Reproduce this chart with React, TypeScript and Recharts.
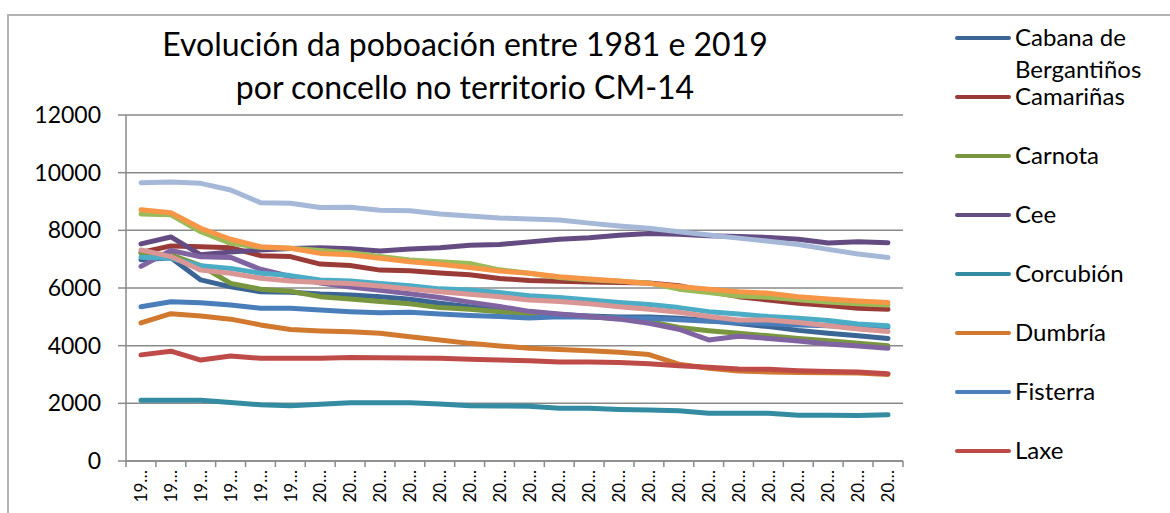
import React from 'react';
import { LineChart, Line, XAxis, YAxis, CartesianGrid } from 'recharts';

// years of the padrón (1981 census, then 1986, 1991, 1996, 1998 onwards)
const years = [
  '1981', '1986', '1991', '1996', '1998', '1999', '2000', '2001', '2002', '2003', '2004', '2005', '2006',
  '2007', '2008', '2009', '2010', '2011', '2012', '2013', '2014', '2015', '2016', '2017', '2018', '2019',
];

const cabana = [6980, 7050, 6280, 6040, 5870, 5850, 5790, 5760, 5700, 5610, 5470, 5350, 5240, 5170, 5080, 5030, 4990, 4990, 4950, 4870, 4770, 4660, 4530, 4430, 4340, 4250];
const camarinas = [7230, 7460, 7430, 7400, 7120, 7090, 6830, 6780, 6620, 6600, 6520, 6460, 6330, 6260, 6230, 6210, 6190, 6170, 6080, 5880, 5700, 5580, 5470, 5390, 5300, 5260];
const carnota = [7200, 7150, 6780, 6160, 5960, 5890, 5700, 5620, 5530, 5450, 5320, 5260, 5180, 5100, 5040, 4990, 4950, 4840, 4630, 4520, 4430, 4340, 4250, 4170, 4080, 4000];
const cee = [7530, 7770, 7150, 7250, 7320, 7370, 7400, 7360, 7280, 7350, 7400, 7480, 7510, 7600, 7690, 7740, 7830, 7890, 7860, 7810, 7790, 7750, 7690, 7560, 7600, 7570];
const corcubion = [2110, 2110, 2110, 2030, 1950, 1920, 1970, 2020, 2020, 2020, 1980, 1920, 1910, 1900, 1830, 1830, 1790, 1770, 1740, 1660, 1660, 1660, 1590, 1590, 1580, 1600];
const dumbria = [4790, 5110, 5030, 4920, 4720, 4560, 4510, 4480, 4430, 4310, 4200, 4080, 3990, 3910, 3870, 3820, 3770, 3690, 3360, 3220, 3120, 3090, 3070, 3060, 3050, 3000];
const fisterra = [5350, 5520, 5490, 5410, 5300, 5300, 5240, 5180, 5140, 5160, 5100, 5050, 5010, 4960, 5000, 4990, 4960, 4950, 4900, 4850, 4800, 4760, 4720, 4690, 4670, 4640];
const laxe = [3680, 3810, 3500, 3640, 3560, 3560, 3560, 3590, 3580, 3570, 3560, 3530, 3500, 3480, 3430, 3430, 3420, 3370, 3300, 3250, 3190, 3180, 3130, 3100, 3090, 3030];
const malpica = [8570, 8540, 7950, 7550, 7410, 7380, 7300, 7220, 7090, 6970, 6910, 6850, 6630, 6510, 6360, 6290, 6230, 6170, 5960, 5840, 5720, 5680, 5590, 5510, 5450, 5410];
const mazaricos = [6750, 7300, 7080, 7060, 6650, 6400, 6170, 6030, 5920, 5800, 5670, 5510, 5360, 5190, 5100, 5010, 4920, 4780, 4570, 4200, 4330, 4250, 4160, 4060, 3990, 3910];
const muxia = [7070, 7030, 6770, 6680, 6510, 6430, 6280, 6240, 6160, 6080, 5970, 5930, 5840, 5730, 5670, 5580, 5500, 5430, 5320, 5180, 5100, 5010, 4950, 4870, 4750, 4690];
const ponteceso = [8710, 8610, 8070, 7690, 7430, 7380, 7200, 7150, 7030, 6910, 6820, 6710, 6590, 6510, 6390, 6310, 6240, 6160, 6050, 5960, 5870, 5820, 5700, 5620, 5550, 5500];
const vimianzo = [9650, 9680, 9630, 9400, 8960, 8940, 8790, 8800, 8700, 8680, 8570, 8500, 8430, 8390, 8360, 8250, 8150, 8070, 7950, 7840, 7730, 7620, 7510, 7340, 7180, 7060];
const zas = [7320, 7090, 6620, 6510, 6340, 6240, 6190, 6160, 6070, 5970, 5870, 5780, 5700, 5580, 5530, 5450, 5350, 5260, 5160, 5010, 4890, 4890, 4800, 4690, 4580, 4490];

const yTicks = [0, 2000, 4000, 6000, 8000, 10000, 12000];

const SERIES = [
  { key: 'cabana', name: 'Cabana de Bergantiños', values: cabana, color: '#3A6595' },
  { key: 'camarinas', name: 'Camariñas', values: camarinas, color: '#9B3B38' },
  { key: 'carnota', name: 'Carnota', values: carnota, color: '#78963D' },
  { key: 'cee', name: 'Cee', values: cee, color: '#644C82' },
  { key: 'corcubion', name: 'Corcubión', values: corcubion, color: '#338CA2' },
  { key: 'dumbria', name: 'Dumbría', values: dumbria, color: '#D0792F' },
  { key: 'fisterra', name: 'Fisterra', values: fisterra, color: '#4A7EBB' },
  { key: 'laxe', name: 'Laxe', values: laxe, color: '#BE4B48' },
  { key: 'malpica', name: 'Malpica de Bergantiños', values: malpica, color: '#9BBB59' },
  { key: 'mazaricos', name: 'Mazaricos', values: mazaricos, color: '#8064A2' },
  { key: 'muxia', name: 'Muxía', values: muxia, color: '#4BACC6' },
  { key: 'ponteceso', name: 'Ponteceso', values: ponteceso, color: '#F79646' },
  { key: 'vimianzo', name: 'Vimianzo', values: vimianzo, color: '#A5B8D8' },
  { key: 'zas', name: 'Zas', values: zas, color: '#D99694' },
];

// the legend box in the original only has room for the first 8 entries
const LEGEND_SHOWN = 8;

const FONT = 'Lato, "Open Sans", sans-serif';
const GRID = '#8a8a8a';

const data = years.map((year, i) => {
  const row: Record<string, string | number> = { year };
  SERIES.forEach((s) => {
    row[s.key] = s.values[i];
  });
  return row;
});

// category label truncated like excel does ("19…"), tick marks sit between categories
const YearTick = (props: any) => {
  const { x, y, payload, index, visibleTicksCount } = props;
  const half = 15;
  const top = y - 6;
  return (
    <g>
      <line x1={x - half} x2={x - half} y1={top} y2={top + 6} stroke={GRID} strokeWidth={1.5} />
      {index === visibleTicksCount - 1 && (
        <line x1={x + half} x2={x + half} y1={top} y2={top + 6} stroke={GRID} strokeWidth={1.5} />
      )}
      <text
        x={x}
        y={y + 3}
        dy="0.36em"
        transform={`rotate(-90, ${x}, ${y + 3})`}
        textAnchor="end"
        fontSize={17}
        fontFamily={FONT}
        fill="#000"
      >
        {String(payload.value).slice(0, 2) + '…'}
      </text>
    </g>
  );
};

export default function App() {
  return (
    <div
      style={{
        position: 'absolute',
        left: 0,
        top: 0,
        width: 1170,
        height: 513,
        overflow: 'hidden',
        background: '#fff',
        fontFamily: FONT,
      }}
    >
      {/* chart frame, cut off on the right and bottom */}
      <div
        style={{
          position: 'absolute',
          left: 7,
          top: 14,
          width: 1200,
          height: 600,
          borderTop: '2px solid #b4b4b4',
          borderLeft: '2px solid #b4b4b4',
        }}
      />

      <div
        style={{
          position: 'absolute',
          left: 115,
          width: 700,
          top: 22,
          textAlign: 'center',
          fontSize: 32,
          lineHeight: '43px',
          color: '#000',
        }}
      >
        Evolución da poboación entre 1981 e 2019
        <br />
        por concello no territorio CM-14
      </div>

      <div style={{ position: 'absolute', left: 0, top: 0 }}>
        <LineChart width={1170} height={513} data={data} margin={{ top: 115, right: 267, bottom: 0, left: 0 }}>
          <CartesianGrid vertical={false} stroke={GRID} strokeWidth={1.5} />
          <XAxis
            dataKey="year"
            height={52}
            padding={{ left: 15, right: 15 }}
            interval={0}
            tickLine={false}
            tickSize={6}
            tickMargin={0}
            axisLine={{ stroke: GRID, strokeWidth: 1.5 }}
            tick={<YearTick />}
          />
          <YAxis
            width={126}
            domain={[0, 12000]}
            ticks={yTicks}
            interval={0}
            tickSize={8}
            tickMargin={17}
            axisLine={{ stroke: GRID, strokeWidth: 1.5 }}
            tickLine={{ stroke: GRID, strokeWidth: 1.5 }}
            tick={{ fontSize: 23, fill: '#000', fontFamily: FONT }}
          />
          {SERIES.map((s) => (
            <Line
              key={s.key}
              type="linear"
              dataKey={s.key}
              name={s.name}
              stroke={s.color}
              strokeWidth={5}
              strokeLinecap="round"
              strokeLinejoin="round"
              dot={false}
              activeDot={false}
              isAnimationActive={false}
            />
          ))}
        </LineChart>
      </div>

      <div style={{ position: 'absolute', left: 955, top: 6.5 }}>
        {SERIES.slice(0, LEGEND_SHOWN).map((s) => (
          <div key={s.key} style={{ position: 'relative', height: 59 }}>
            <div
              style={{
                position: 'absolute',
                left: 0,
                top: 29.5,
                width: 56,
                height: 4,
                borderRadius: 2,
                background: s.color,
              }}
            />
            <div
              style={{
                position: 'absolute',
                left: 60,
                top: 14,
                width: 150,
                fontSize: 24,
                lineHeight: '32px',
                color: '#000',
                whiteSpace: 'normal',
              }}
            >
              {s.name}
            </div>
          </div>
        ))}
      </div>
    </div>
  );
}
